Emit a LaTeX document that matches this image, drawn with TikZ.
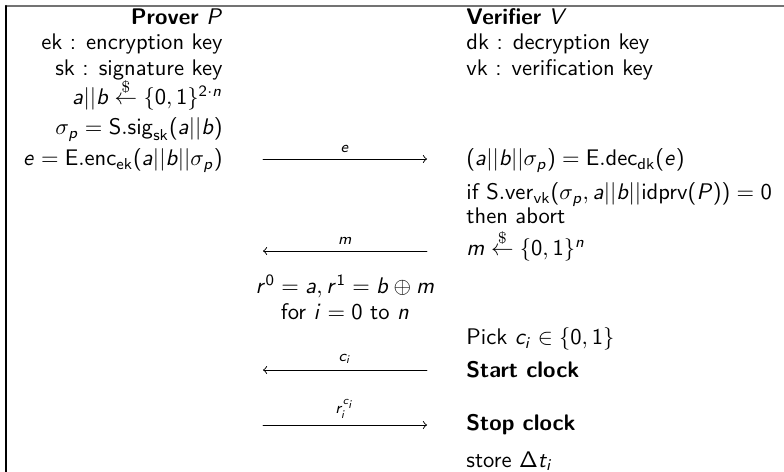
\documentclass[tikz,border=0pt]{standalone}
\usepackage{amsmath,amssymb}
\usetikzlibrary{arrows}
% sans serif math letters and digits
\DeclareSymbolFont{sfletters}{OT1}{cmss}{m}{sl}
\DeclareSymbolFont{sfupright}{OT1}{cmss}{m}{n}
\DeclareMathSymbol{a}{\mathalpha}{sfletters}{`a}
\DeclareMathSymbol{b}{\mathalpha}{sfletters}{`b}
\DeclareMathSymbol{c}{\mathalpha}{sfletters}{`c}
\DeclareMathSymbol{e}{\mathalpha}{sfletters}{`e}
\DeclareMathSymbol{i}{\mathalpha}{sfletters}{`i}
\DeclareMathSymbol{m}{\mathalpha}{sfletters}{`m}
\DeclareMathSymbol{n}{\mathalpha}{sfletters}{`n}
\DeclareMathSymbol{p}{\mathalpha}{sfletters}{`p}
\DeclareMathSymbol{r}{\mathalpha}{sfletters}{`r}
\DeclareMathSymbol{t}{\mathalpha}{sfletters}{`t}
\DeclareMathSymbol{P}{\mathalpha}{sfletters}{`P}
\DeclareMathSymbol{V}{\mathalpha}{sfletters}{`V}
\DeclareMathSymbol{0}{\mathalpha}{sfupright}{`0}
\DeclareMathSymbol{1}{\mathalpha}{sfupright}{`1}
\DeclareMathSymbol{2}{\mathalpha}{sfupright}{`2}
\DeclareMathSymbol{(}{\mathopen}{sfupright}{`(}
\DeclareMathSymbol{)}{\mathclose}{sfupright}{`)}
\DeclareMathSymbol{\Delta}{\mathalpha}{sfupright}{"01}

\begin{document}
\begin{tikzpicture}[x=0.443pt, y=-0.443pt, font=\sffamily, line join=round, line cap=round,
	lcol/.style={anchor=base east, inner sep=0pt},
	rcol/.style={anchor=base west, inner sep=0pt},
	mcol/.style={anchor=base, inner sep=0pt},
	msg/.style={-to, line width=0.4pt},
	lbl/.style={font=\sffamily\scriptsize, above, inner sep=2.5pt}]
			\useasboundingbox (0,0) rectangle (784,472);
			% frame
			\coordinate (tl) at (6,6);
			\draw[black!55, line width=0.9pt] (tl)--(784,6);
			\draw[line width=0.9pt] (tl)--(6,472);
			% prover side
			\node[lcol] (prv) at (223,25) {\textbf{Prover} $P$};
			\node[lcol] (ek) at (223,50) {ek : encryption key};
			\node[lcol] (sk) at (223,76) {sk : signature key};
			\node[lcol] (ab) at (223,105) {$a||b \stackrel{\$}{\leftarrow} \{0,1\}^{2\cdot n}$};
			\node[lcol] (sig) at (223,135) {$\sigma_p = \mathsf{S.sig}_{\mathsf{sk}}(a||b)$};
			\node[lcol] (enc) at (223,166) {$e = \mathsf{E.enc}_{\mathsf{ek}}(a||b||\sigma_p)$};
			% verifier side
			\node[rcol] (ver) at (466,25) {\textbf{Verifier} $V$};
			\node[rcol] (dk) at (466,50) {dk : decryption key};
			\node[rcol] (vk) at (466,76) {vk : verification key};
			\node[rcol] (dec) at (466,166) {$(a||b||\sigma_p) = \mathsf{E.dec}_{\mathsf{dk}}(e)$};
			\node[rcol] (chk) at (466,200) {if $\mathsf{S.ver}_{\mathsf{vk}}(\sigma_p, a||b||\mathsf{idprv}(P)) = 0$};
			\node[rcol] (abrt) at (466,224) {then abort};
			\node[rcol] (pm) at (466,256) {$m \stackrel{\$}{\leftarrow} \{0,1\}^n$};
			\node[rcol] (pick) at (466,345) {Pick $c_i \in \{0,1\}$};
			\node[rcol] (start) at (466,378) {\textbf{Start clock}};
			\node[rcol] (stop) at (466,430) {\textbf{Stop clock}};
			\node[rcol] (store) at (466,467) {store $\Delta t_i$};
			% middle
			\node[mcol] (rr) at (345,294) {$r^0 = a, r^1 = b \oplus m$};
			\node[mcol] (loop) at (345,320) {for $i = 0$ to $n$};
			% messages
			\foreach \x\y\t in {263/159/eL,427/159/eR,263/251/mL,427/251/mR,263/370/cL,427/370/cR,263/425/rL,427/425/rR}
			\coordinate (\t) at (\x,\y);
			\draw[msg] (eL)--(eR);
			\draw[msg] (mR)--(mL);
			\draw[msg] (cR)--(cL);
			\draw[msg] (rL)--(rR);
			\path (eL)--(eR) node[pos=0.5,lbl]{$e$};
			\path (mL)--(mR) node[pos=0.5,lbl]{$m$};
			\path (cL)--(cR) node[pos=0.5,lbl]{$c_i$};
			\path (rL)--(rR) node[pos=0.5,lbl]{$r_i^{c_i}$};
		\end{tikzpicture}
\end{document}
